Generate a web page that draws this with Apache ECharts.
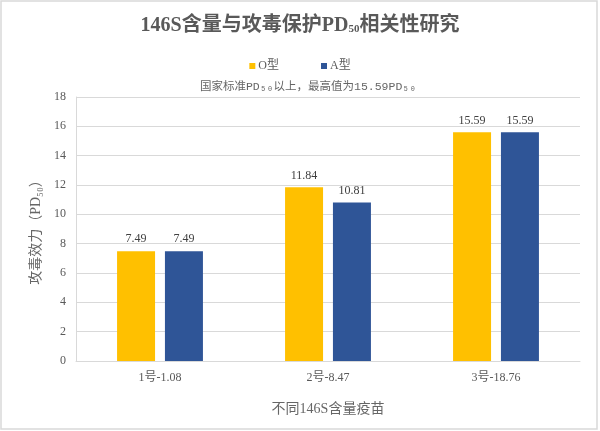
<!DOCTYPE html>
<html>
<head>
<meta charset="utf-8">
<script src="https://cdn.jsdelivr.net/npm/echarts@6/dist/echarts.min.js"></script>
<style>html,body{margin:0;padding:0;background:#fff}#c{width:600px;height:431px}</style>
</head>
<body>
<div id="c"></div>
<script>
var categories = ['1号-1.08', '2号-8.47', '3号-18.76'];
var seriesNames = ['O型', 'A型'];
var oValues = [7.49, 11.84, 15.59];
var aValues = [7.49, 10.81, 15.59];
var yTicks = {min: 0, max: 18, interval: 2};

var serif = '"Liberation Serif", "Times New Roman", "Noto Sans CJK SC", serif';
var chart = echarts.init(document.getElementById('c'));
chart.setOption({
  backgroundColor: '#fff',
  animation: false,
  title: [{
    text: '{a|146S含量与攻毒保护PD}{s|50}{a|相关性研究}',
    left: 'center', top: 11,
    textStyle: {
      rich: {
        a: {fontSize: 20, fontWeight: 'bold', color: '#595959', fontFamily: serif},
        s: {fontSize: 11, fontWeight: 'bold', color: '#595959', fontFamily: serif, padding: [7, 0, 0, 0]}
      }
    }
  }, {
    text: '国家标准PD₅₀以上，最高值为15.59PD₅₀',
    left: 303, textAlign: 'center', top: 76,
    textStyle: {fontSize: 11.5, fontWeight: 'normal', color: '#666666', fontFamily: '"Liberation Mono", "Noto Sans CJK SC", monospace'}
  }],
  legend: {
    data: seriesNames,
    top: 55, left: 'center',
    itemWidth: 6, itemHeight: 6, itemGap: 42,
    icon: 'rect',
    textStyle: {fontSize: 12, color: '#595959', fontFamily: serif, padding: [0, 0, 0, -2]}
  },
  grid: {left: 76, right: 20, top: 97, bottom: 70},
  xAxis: {
    type: 'category',
    data: categories,
    axisLine: {lineStyle: {color: '#d9d9d9', width: 1}},
    axisTick: {show: false},
    axisLabel: {color: '#595959', fontSize: 12, fontFamily: serif, margin: 11},
    name: '不同146S含量疫苗',
    nameLocation: 'middle', nameGap: 41,
    nameTextStyle: {fontSize: 14, color: '#666666', fontFamily: serif}
  },
  yAxis: {
    type: 'value',
    min: yTicks.min, max: yTicks.max, interval: yTicks.interval,
    axisLine: {show: true, lineStyle: {color: '#d9d9d9', width: 1}},
    axisTick: {show: false},
    splitLine: {lineStyle: {color: '#d9d9d9', width: 1}},
    axisLabel: {color: '#595959', fontSize: 12, fontFamily: serif, margin: 10},
    name: '攻毒效力（PD₅₀）',
    nameLocation: 'middle', nameGap: 27, nameRotate: 90,
    nameTextStyle: {fontSize: 14, color: '#666666', fontFamily: serif}
  },
  series: [{
    name: seriesNames[0], type: 'bar', data: oValues,
    barWidth: 38, barGap: '26%',
    itemStyle: {color: '#FFC000'},
    label: {show: true, position: 'top', distance: 6, color: '#404040', fontSize: 12, fontFamily: serif}
  }, {
    name: seriesNames[1], type: 'bar', data: aValues,
    barWidth: 38, barGap: '26%',
    itemStyle: {color: '#2F5597'},
    label: {show: true, position: 'top', distance: 6, color: '#404040', fontSize: 12, fontFamily: serif}
  }],
  graphic: [{
    type: 'rect', silent: true,
    shape: {x: 1, y: 1, width: 596, height: 428},
    style: {fill: 'none', stroke: '#d9d9d9', lineWidth: 1.5}
  }]
});
</script>
</body>
</html>
